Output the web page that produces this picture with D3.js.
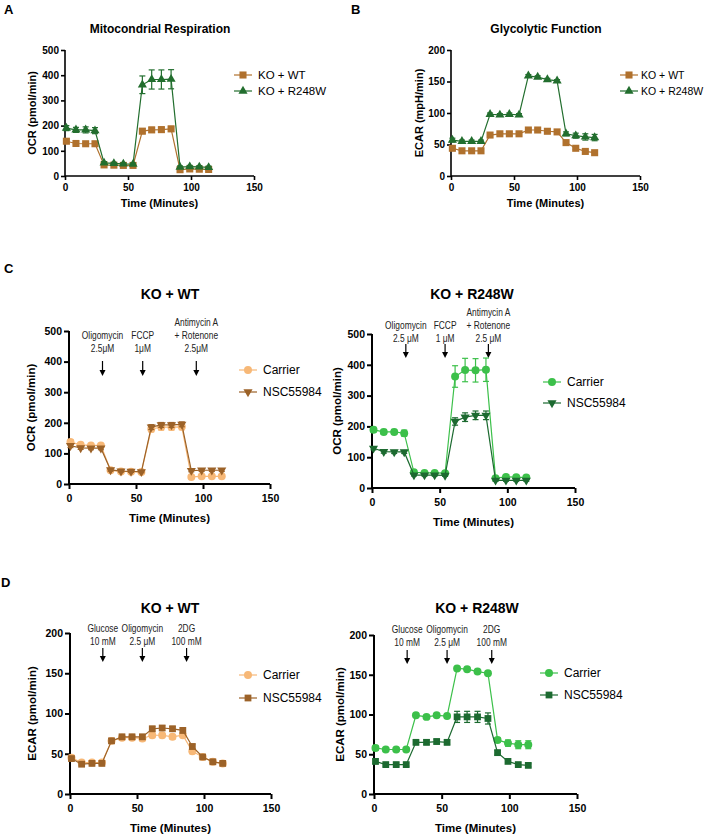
<!DOCTYPE html>
<html>
<head>
<meta charset="utf-8">
<script src="https://cdn.jsdelivr.net/npm/d3@7"></script>
<style>
  html, body { margin: 0; padding: 0; background: #fff; }
  svg { display: block; }
  text { font-family: "Liberation Sans", Arial, sans-serif; }
</style>
</head>
<body>
<svg id="chart" width="708" height="835"></svg>
<script>
// ---------- DATA ----------
const times = [1.1, 8.7, 16.4, 23.8, 31.0, 38.8, 46.3, 54.0, 61.4, 68.8, 76.5, 84.2, 91.3, 99.0, 106.6, 114.0];

// Panel A: Mitochondrial respiration (OCR)
const aWT      = [138, 129, 128, 128, 44, 43, 42, 42, 178, 183, 184, 187, 25, 28, 27, 26];
const aWTErr   = [8, 5, 5, 5, 4, 4, 4, 4, 10, 10, 10, 10, 3, 3, 3, 3];
const aR248W   = [190, 183, 183, 180, 52, 50, 48, 47, 362, 383, 383, 384, 35, 37, 36, 34];
const aR248WErr= [10, 10, 12, 12, 5, 4, 4, 4, 35, 38, 38, 38, 5, 5, 5, 5];

// Panel B: Glycolytic function (ECAR)
const bWT      = [44, 40, 40, 40, 65, 67, 67, 67, 73, 73, 71, 70, 53, 44, 39, 37];
const bWTErr   = [3, 2, 2, 2, 3, 3, 3, 3, 2, 2, 2, 2, 2, 2, 2, 2];
const bR248W   = [57, 55, 55, 55, 98, 97, 98, 97, 159, 157, 153, 151, 67, 64, 62, 61];
const bR248WErr= [3, 2, 2, 2, 2, 2, 2, 2, 2, 2, 2, 2, 3, 4, 5, 5];

// Panel C: OCR with NSC55984
const cWTCarrier    = [137, 128, 126, 126, 45, 41, 40, 39, 180, 186, 186, 187, 23, 25, 25, 25];
const cWTCarrierErr = [8, 6, 6, 6, 4, 3, 3, 3, 10, 10, 10, 10, 4, 4, 4, 4];
const cWTNSC        = [125, 118, 117, 117, 46, 42, 41, 40, 186, 193, 193, 195, 44, 45, 45, 45];
const cWTNSCErr     = [6, 5, 5, 5, 4, 3, 3, 3, 8, 8, 8, 8, 4, 4, 4, 4];
const cRCarrier     = [189, 182, 182, 178, 51, 49, 49, 48, 362, 383, 382, 384, 32, 36, 35, 34];
const cRCarrierErr  = [8, 8, 8, 10, 5, 4, 4, 4, 35, 38, 38, 38, 5, 5, 5, 5];
const cRNSC         = [129, 118, 117, 117, 42, 42, 42, 41, 216, 230, 236, 236, 25, 25, 25, 25];
const cRNSCErr      = [5, 5, 5, 5, 3, 3, 3, 3, 12, 14, 14, 14, 3, 3, 3, 3];

// Panel D: ECAR with NSC55984
const dWTCarrier    = [45, 39, 39, 39, 66, 70, 70, 69, 73, 73, 71, 73, 53, 46, 40, 38];
const dWTCarrierErr = [3, 2, 2, 2, 3, 3, 3, 3, 3, 3, 3, 3, 3, 2, 2, 2];
const dWTNSC        = [44, 37, 38, 38, 66, 71, 71, 71, 81, 82, 81, 79, 59, 46, 40, 38];
const dWTNSCErr     = [2, 2, 2, 2, 3, 3, 3, 3, 3, 3, 3, 3, 3, 2, 2, 2];
const dRCarrier     = [58, 56, 56, 56, 99, 97, 99, 98, 158, 157, 154, 152, 68, 64, 62, 62];
const dRCarrierErr  = [3, 2, 2, 2, 2, 2, 2, 2, 2, 2, 2, 2, 3, 4, 5, 5];
const dRNSC         = [41, 37, 37, 37, 65, 65, 66, 65, 97, 97, 97, 95, 52, 41, 37, 36];
const dRNSCErr      = [3, 2, 2, 2, 3, 3, 3, 3, 7, 7, 7, 7, 3, 2, 2, 2];

const xTicks = [0, 50, 100, 150];
const ocrTicks = [0, 100, 200, 300, 400, 500];
const ecarTicks = [0, 50, 100, 150, 200];

const legendAB = ["KO + WT", "KO + R248W"];
const legendCD = ["Carrier", "NSC55984"];

const annOCRleft  = [{t: 25, lines: ["Oligomycin", "2.5\u03bcM"]}, {t: 55, lines: ["FCCP", "1\u03bcM"]}, {t: 95, lines: ["Antimycin A", "+ Rotenone", "2.5\u03bcM"]}];
const annOCRright = [{t: 25, lines: ["Oligomycin", "2.5 \u03bcM"]}, {t: 54, lines: ["FCCP", "1 \u03bcM"]}, {t: 86, lines: ["Antimycin A", "+ Rotenone", "2.5 \u03bcM"]}];
const annECAR     = [{t: 24.5, lines: ["Glucose", "10 mM"]}, {t: 54, lines: ["Oligomycin", "2.5 \u03bcM"]}, {t: 87, lines: ["2DG", "100 mM"]}];

// ---------- COLORS ----------
const brown = "#b0712d";
const dkGreen = "#226e2e";
const ltOrange = "#f7b877";
const nscBrown = "#9c6228";
const brGreen = "#3cc04a";
const nscGreen = "#1c6a30";

const svg = d3.select("#chart");

function sym(type, size) {
  const map = {square: d3.symbolSquare, triangle: d3.symbolTriangle, circle: d3.symbolCircle, down: d3.symbolTriangle};
  return d3.symbol().type(map[type]).size(size)();
}

function drawPanel(p) {
  const g = svg.append("g");
  const x = d3.scaleLinear().domain([0, 150]).range([p.x0, p.x1]);
  const y = d3.scaleLinear().domain([0, p.yMax]).range([p.yBot, p.yTop]);

  const xAxis = d3.axisBottom(x).tickValues(xTicks).tickSize(p.tick).tickPadding(p.pad);
  const yAxis = d3.axisLeft(y).tickValues(p.yTicks).tickSize(p.tick).tickPadding(2);
  const gx = g.append("g").attr("transform", `translate(0,${p.yBot})`).call(xAxis);
  const gy = g.append("g").attr("transform", `translate(${p.x0},0)`).call(yAxis);
  [gx, gy].forEach(a => {
    a.select(".domain").attr("stroke", "#000").attr("stroke-width", p.sw);
    a.selectAll(".tick line").attr("stroke", "#000").attr("stroke-width", p.sw);
    a.selectAll("text").attr("fill", "#000").attr("font-weight", "bold").attr("font-size", p.tickFs)
      .style("font-family", "'Liberation Sans', Arial, sans-serif");
  });
  gx.select(".domain").attr("d", `M${p.x0},0H${p.x1}`);
  gy.select(".domain").attr("d", `M0,${p.yTop}V${p.yBot}`);

  g.append("text").attr("x", (p.x0 + p.x1) / 2).attr("y", p.yBot + p.xtOff)
    .attr("text-anchor", "middle").attr("font-weight", "bold").attr("font-size", p.axFs).text("Time (Minutes)");
  g.append("text").attr("transform", `translate(${p.ytX},${(p.yTop + p.yBot) / 2}) rotate(-90)`)
    .attr("text-anchor", "middle").attr("dominant-baseline", "middle").attr("font-weight", "bold").attr("font-size", p.axFs).text(p.ylabel);

  g.append("text").attr("x", p.titleX).attr("y", p.titleY).attr("text-anchor", "middle")
    .attr("font-weight", "bold").attr("font-size", p.titleFs).text(p.title);

  if (p.ann) {
    p.ann.forEach(a => {
      const ax = x(a.t);
      const n = a.lines.length;
      a.lines.forEach((ln, i) => {
        g.append("text")
          .attr("transform", `translate(${ax},${p.annBase - (n - 1 - i) * p.annLH}) scale(0.84,1)`)
          .attr("text-anchor", "middle").attr("font-size", p.annFs)
          .attr("fill", "#222").text(ln);
      });
      g.append("line").attr("x1", ax).attr("x2", ax).attr("y1", p.arrowY0).attr("y2", p.arrowY1 - 5)
        .attr("stroke", "#000").attr("stroke-width", 1.2);
      g.append("path").attr("d", `M${ax - 3},${p.arrowY1 - 6}L${ax + 3},${p.arrowY1 - 6}L${ax},${p.arrowY1}Z`).attr("fill", "#000");
    });
  }

  p.series.forEach(s => {
    const pts = times.map((t, i) => ({t, v: s.values[i], e: s.err[i]}));
    const sg = g.append("g");
    sg.append("path").datum(pts)
      .attr("fill", "none").attr("stroke", s.color).attr("stroke-width", 1.2)
      .attr("d", d3.line().x(d => x(d.t)).y(d => y(d.v)));
    const eb = sg.selectAll(".eb").data(pts).enter().append("g");
    eb.append("line").attr("x1", d => x(d.t)).attr("x2", d => x(d.t))
      .attr("y1", d => y(d.v - d.e)).attr("y2", d => y(d.v + d.e)).attr("stroke", s.color).attr("stroke-width", 1.2);
    [1, -1].forEach(sg2 => {
      eb.append("line").attr("x1", d => x(d.t) - 3).attr("x2", d => x(d.t) + 3)
        .attr("y1", d => y(d.v + sg2 * d.e)).attr("y2", d => y(d.v + sg2 * d.e)).attr("stroke", s.color).attr("stroke-width", 1.2);
    });
    sg.selectAll(".mk").data(pts).enter().append("path")
      .attr("d", sym(s.shape, s.size))
      .attr("transform", d => `translate(${x(d.t)},${y(d.v)})${s.shape === "down" ? " rotate(180)" : ""}`)
      .attr("fill", s.color);
  });

  p.series.forEach((s, i) => {
    const ly = p.legY + i * p.legDY;
    g.append("line").attr("x1", p.legX - 9).attr("x2", p.legX + 9).attr("y1", ly).attr("y2", ly)
      .attr("stroke", s.color).attr("stroke-width", 1.2);
    g.append("path").attr("d", sym(s.shape, s.size))
      .attr("transform", `translate(${p.legX},${ly})${s.shape === "down" ? " rotate(180)" : ""}`).attr("fill", s.color);
    g.append("text").attr("x", p.legX + (p.legGap || 15)).attr("y", ly).attr("dominant-baseline", "central")
      .attr("font-size", p.legFs).text(s.name);
  });
}

[["A", 4, 14], ["B", 351, 14], ["C", 4, 273], ["D", 1, 587]].forEach(([t, lx, ly]) => {
  svg.append("text").attr("x", lx).attr("y", ly).attr("font-weight", "bold").attr("font-size", 13).text(t);
});

const common = {tick: 4, pad: 4, sw: 1.6, tickFs: 10, axFs: 11};

drawPanel(Object.assign({}, common, {
  x0: 65, x1: 254, yTop: 50, yBot: 176, yMax: 500, yTicks: ocrTicks, ylabel: "OCR (pmol/min)", ytX: 33,
  xtOff: 31, title: "Mitocondrial Respiration", titleX: 160, titleY: 33, titleFs: 12,
  legX: 243, legY: 75, legDY: 16, legFs: 11.5,
  series: [
    {name: legendAB[0], values: aWT, err: aWTErr, color: brown, shape: "square", size: 50},
    {name: legendAB[1], values: aR248W, err: aR248WErr, color: dkGreen, shape: "triangle", size: 36}
  ]
}));

drawPanel(Object.assign({}, common, {
  x0: 451, x1: 640, yTop: 50, yBot: 176, yMax: 200, yTicks: ecarTicks, ylabel: "ECAR (mpH/min)", ytX: 420,
  xtOff: 31, title: "Glycolytic Function", titleX: 546, titleY: 33, titleFs: 12,
  legX: 629, legY: 75, legDY: 16, legFs: 10.5, legGap: 12,
  series: [
    {name: legendAB[0], values: bWT, err: bWTErr, color: brown, shape: "square", size: 50},
    {name: legendAB[1], values: bR248W, err: bR248WErr, color: dkGreen, shape: "triangle", size: 36}
  ]
}));

const cd = Object.assign({}, common, {tick: 5, pad: 6, sw: 2, tickFs: 10.5, axFs: 11.5, xtOff: 38, titleFs: 14, annFs: 10, annLH: 13, legFs: 12});

drawPanel(Object.assign({}, cd, {
  x0: 69, x1: 270, yTop: 331, yBot: 484, yMax: 500, yTicks: ocrTicks, ylabel: "OCR (pmol/min)", ytX: 32,
  title: "KO + WT", titleX: 170, titleY: 299,
  ann: annOCRleft, annBase: 352, arrowY0: 361, arrowY1: 376,
  legX: 248, legY: 370, legDY: 22,
  series: [
    {name: legendCD[0], values: cWTCarrier, err: cWTCarrierErr, color: ltOrange, shape: "circle", size: 50},
    {name: legendCD[1], values: cWTNSC, err: cWTNSCErr, color: nscBrown, shape: "down", size: 36}
  ]
}));

drawPanel(Object.assign({}, cd, {
  x0: 372, x1: 575, yTop: 334, yBot: 488, yMax: 500, yTicks: ocrTicks, ylabel: "OCR (pmol/min)", ytX: 338,
  title: "KO + R248W", titleX: 472, titleY: 299,
  ann: annOCRright, annBase: 342, arrowY0: 344, arrowY1: 358,
  legX: 552, legY: 382, legDY: 21,
  series: [
    {name: legendCD[0], values: cRCarrier, err: cRCarrierErr, color: brGreen, shape: "circle", size: 50},
    {name: legendCD[1], values: cRNSC, err: cRNSCErr, color: nscGreen, shape: "down", size: 36}
  ]
}));

drawPanel(Object.assign({}, cd, {
  x0: 70, x1: 271, yTop: 633, yBot: 794, yMax: 200, yTicks: ecarTicks, ylabel: "ECAR (pmol/min)", ytX: 33,
  title: "KO + WT", titleX: 170, titleY: 613,
  ann: annECAR, annBase: 645, arrowY0: 648, arrowY1: 662,
  legX: 248, legY: 675, legDY: 23,
  series: [
    {name: legendCD[0], values: dWTCarrier, err: dWTCarrierErr, color: ltOrange, shape: "circle", size: 50},
    {name: legendCD[1], values: dWTNSC, err: dWTNSCErr, color: nscBrown, shape: "square", size: 46}
  ]
}));

drawPanel(Object.assign({}, cd, {
  x0: 374, x1: 577, yTop: 635, yBot: 794, yMax: 200, yTicks: ecarTicks, ylabel: "ECAR (pmol/min)", ytX: 341,
  title: "KO + R248W", titleX: 477, titleY: 613,
  ann: annECAR, annBase: 646, arrowY0: 650, arrowY1: 664,
  legX: 549, legY: 673, legDY: 22,
  series: [
    {name: legendCD[0], values: dRCarrier, err: dRCarrierErr, color: brGreen, shape: "circle", size: 50},
    {name: legendCD[1], values: dRNSC, err: dRNSCErr, color: nscGreen, shape: "square", size: 46}
  ]
}));
</script>
</body>
</html>
